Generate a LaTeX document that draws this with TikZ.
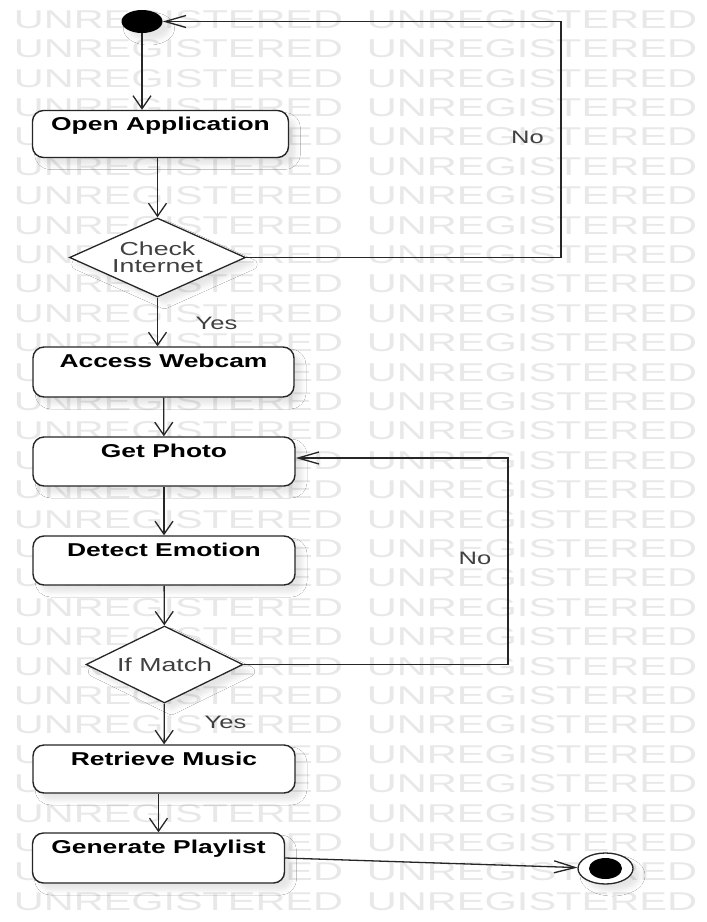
\documentclass[tikz,border=0pt]{standalone}
\usepackage{fontspec}
\setmainfont{Liberation Sans}
\usepackage{graphicx}
\usetikzlibrary{arrows.meta,shapes.geometric,shadows.blur}

% all text of the sheet is set horizontally widened
\newcommand{\wide}[1]{\scalebox{1.42}[1]{#1}}

\tikzset{
  flow/.style={draw=black!85, line width=1.3pt},
  tipv/.style={-{Straight Barb[length=13pt,width=18pt]}},
  tiph/.style={-{Straight Barb[length=21pt,width=12pt]}},
  soft/.style={blur shadow={shadow xshift=7pt, shadow yshift=-7pt,
      shadow opacity=10, shadow blur radius=5pt}},
  boxlbl/.style={anchor=base, yshift=-21pt, inner sep=0pt, text=black,
      font=\fontsize{18.6}{20}\selectfont\bfseries},
  actbox/.style={draw=black!85, line width=1.4pt, fill=white,
      rounded corners=11pt, inner sep=0pt, soft,
      label={[boxlbl]north:{\wide{#1}}}},
  decidelbl/.style={anchor=center, inner sep=0pt, align=center, text=black!75,
      font=\fontsize{18.8}{17.5}\selectfont},
  decide/.style={draw=black!85, line width=1.3pt, fill=white, diamond,
      inner sep=0pt, soft, label={[decidelbl]center:{#1}}},
  guard/.style={inner sep=0pt, text=black!75, font=\fontsize{18}{20}\selectfont},
  stamp/.style={inner sep=0pt, text=black!9},
}

\begin{document}
\begin{tikzpicture}[x=1pt, y=-1pt]
  \fill[white] (0,0) rectangle (707,922);
  \useasboundingbox (0,0) rectangle (707,922);

  % watermark rows
  \foreach \k in {0,...,30}{
    \node[stamp] (wmL\k) at (178.5, 19.5+29.4*\k) {\resizebox{329pt}{18pt}{UNREGISTERED}};
    \node[stamp] (wmR\k) at (532, 19.5+29.4*\k) {\resizebox{330pt}{18pt}{UNREGISTERED}};
  }

  % initial and final states
  \node[ellipse, fill=black, minimum width=41pt, minimum height=23pt,
        inner sep=0pt, soft] (init) at (142,21.5) {};
  \node[ellipse, draw=black!85, line width=1.3pt, fill=white, minimum width=55pt,
        minimum height=31pt, inner sep=0pt, soft] (final) at (605.5,868.5) {};
  \node[ellipse, fill=black, minimum width=33pt, minimum height=21pt,
        inner sep=0pt] (finalcore) at (final) {};

  % activities
  \node[actbox={Open Application}, minimum width=256pt, minimum height=47pt] (open) at (160.5,134) {};
  \node[actbox={Access Webcam}, minimum width=261pt, minimum height=50pt] (access) at (163.5,372) {};
  \node[actbox={Get Photo}, minimum width=262pt, minimum height=49pt] (photo) at (164,461.5) {};
  \node[actbox={Detect Emotion}, minimum width=262pt, minimum height=49pt] (detect) at (164,560.5) {};
  \node[actbox={Retrieve Music}, minimum width=262pt, minimum height=48pt] (retrieve) at (164,769) {};
  \node[actbox={Generate Playlist}, minimum width=252pt, minimum height=50pt] (generate) at (158.5,858) {};

  % decisions
  \node[decide={\wide{Check}\\\wide{Internet}}, minimum width=176pt, minimum height=79pt] (check) at (157.5,257.5) {};
  \node[decide={\wide{If Match}}, minimum width=157pt, minimum height=77pt] (match) at (164.5,664.5) {};

  % main flow
  \draw[flow,tipv] (init) -- (init |- open.north);
  \draw[flow,tipv] (check.north |- open.south) -- (check.north);
  \draw[flow,tipv] (check.south) -- (check.south |- access.north);
  \draw[flow,tipv] (access) -- (photo);
  \draw[flow,tipv] (photo) -- (detect);
  \draw[flow,tipv] (detect) -- (match);
  \draw[flow,tipv] (match) -- (retrieve);
  \draw[flow,tipv] (generate.north |- retrieve.south) -- (generate.north);
  \draw[flow,tiph] (generate.east) -- (final);

  % loops back on "No"
  \coordinate (railA) at (561,0);
  \coordinate (railB) at (508,0);
  \coordinate (photoIn) at ([yshift=3.5pt]photo.east);
  \draw[flow,tiph] (check.east) -- (check.east -| railA) -- (railA |- init.east) -- (init.east);
  \draw[flow,tiph] (match.east) -- (match.east -| railB) -- (railB |- photoIn) -- (photoIn);

  % guards
  \node[guard] (noA) at (527.5,137) {\wide{No}};
  \node[guard] (yesA) at (216.5,323.5) {\wide{Yes}};
  \node[guard] (noB) at (475,558) {\wide{No}};
  \node[guard] (yesB) at (225.5,722) {\wide{Yes}};
\end{tikzpicture}
\end{document}
